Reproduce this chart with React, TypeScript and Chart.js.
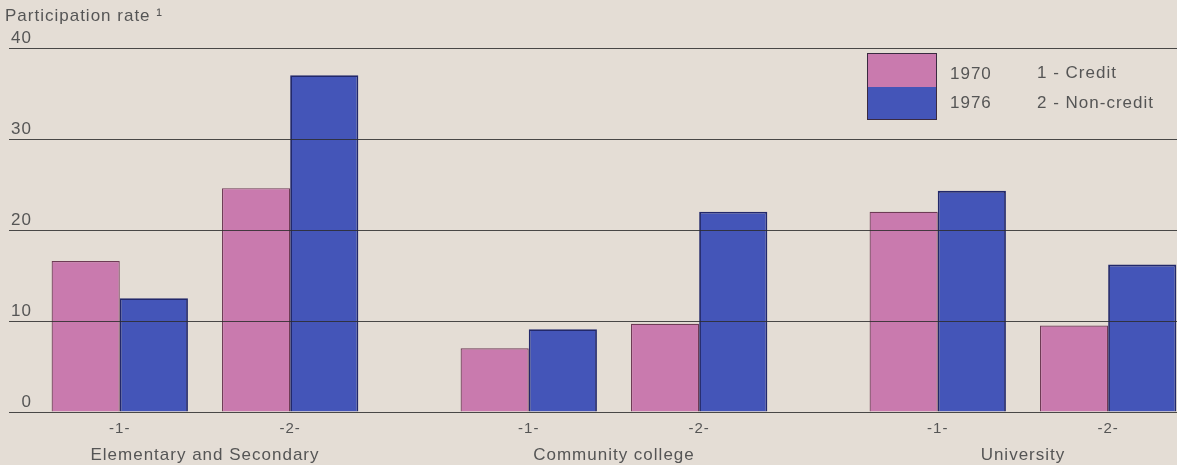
import React, { useEffect, useRef } from 'react';
import { Chart, registerables } from 'chart.js';

Chart.register(...registerables);

// ---- Data ----
const GROUPS = ['Elementary and Secondary', 'Community college', 'University'];
const SUB_LABELS = ['-1-', '-2-'];
const SERIES = ['1970', '1976'];
const VALUES_1970 = [16.6, 24.6, 7.0, 9.7, 22.0, 9.5];
const VALUES_1976 = [12.5, 37.0, 9.1, 22.0, 24.3, 16.2];
const LEGEND_NOTES = ['1 - Credit', '2 - Non-credit'];
const Y_MIN = 0;
const Y_MAX = 40;
const Y_STEP = 10;
const TITLE = 'Participation rate \u00B9';

// ---- Layout / style ----
const GROUP_STEP = 12;
const SUB_STEP = 5;
const X_MIN = -3.25;
const X_MAX = 31.02;
const BG = '#e4ddd5';
const PINK = '#c97aae';
const PINK_BORDER = '#6e3b55';
const BLUE = '#4455b8';
const BLUE_BORDER = '#22286a';
const TEXT = '#555';
const GRID = 'rgba(45,45,45,0.85)';
const FONT = '"Liberation Sans", Arial, Helvetica, sans-serif';

const barPos = (i: number) => Math.floor(i / SUB_LABELS.length) * GROUP_STEP + (i % SUB_LABELS.length) * SUB_STEP;
const BAR_POS = VALUES_1970.map((_, i) => barPos(i));
const GROUP_POS = GROUPS.map((_, g) => g * GROUP_STEP + SUB_STEP / 2);

const letterSpacingPlugin = {
  id: 'letterSpacing',
  beforeUpdate(chart: any) { chart.ctx.letterSpacing = '1px'; },
  beforeLayout(chart: any) { chart.ctx.letterSpacing = '1px'; },
  beforeDraw(chart: any) { chart.ctx.letterSpacing = '1px'; },
};

export default function App() {
  const ref = useRef<HTMLCanvasElement>(null);

  useEffect(() => {
    if (!ref.current) return;
    const chart = new Chart(ref.current, {
      type: 'bar',
      data: {
        datasets: [
          {
            label: SERIES[0],
            data: VALUES_1970.map((v, i) => ({ x: BAR_POS[i], y: v })),
            backgroundColor: PINK,
            borderColor: PINK_BORDER,
            borderWidth: 1.2,
            categoryPercentage: 0.8,
            barPercentage: 1,
          },
          {
            label: SERIES[1],
            data: VALUES_1976.map((v, i) => ({ x: BAR_POS[i], y: v })),
            backgroundColor: BLUE,
            borderColor: BLUE_BORDER,
            borderWidth: 1.8,
            categoryPercentage: 0.8,
            barPercentage: 1,
          },
        ] as any,
      },
      options: {
        animation: false,
        responsive: true,
        maintainAspectRatio: false,
        layout: { padding: { left: 5, right: 0, top: 0, bottom: 0 } },
        plugins: {
          legend: { display: false },
          tooltip: { enabled: false },
          title: {
            display: true,
            text: TITLE,
            align: 'start',
            color: TEXT,
            font: { family: FONT, size: 17, weight: 'normal' },
            padding: { top: 6, bottom: 21.6 },
          },
        },
        scales: {
          x: {
            type: 'linear',
            min: X_MIN,
            max: X_MAX,
            bounds: 'data',
            offset: false,
            weight: 0,
            grid: { display: false, drawTicks: false, offset: false },
            border: { display: false },
            afterBuildTicks: (axis: any) => { axis.ticks = BAR_POS.map((v) => ({ value: v })); },
            ticks: {
              autoSkip: false,
              maxRotation: 0,
              padding: 8,
              color: TEXT,
              font: { family: FONT, size: 15, lineHeight: 1.2 },
              callback: (_v: any, i: number) => SUB_LABELS[i % SUB_LABELS.length],
            },
          },
          x2: {
            type: 'linear',
            position: 'bottom',
            min: X_MIN,
            max: X_MAX,
            bounds: 'data',
            offset: false,
            weight: 1,
            grid: { display: false, drawTicks: false },
            border: { display: false },
            afterBuildTicks: (axis: any) => { axis.ticks = GROUP_POS.map((v) => ({ value: v })); },
            ticks: {
              autoSkip: false,
              maxRotation: 0,
              padding: 0,
              color: TEXT,
              font: { family: FONT, size: 17, lineHeight: '19px' },
              callback: (_v: any, i: number) => GROUPS[i],
            },
          },
          y: {
            min: Y_MIN,
            max: Y_MAX,
            border: { display: false },
            grid: { color: GRID, lineWidth: 1, drawTicks: false, z: 1 },
            ticks: {
              stepSize: Y_STEP,
              mirror: true,
              crossAlign: 'far',
              padding: 2,
              labelOffset: -10,
              color: TEXT,
              font: { family: FONT, size: 17 },
            },
          },
        } as any,
      },
      plugins: [letterSpacingPlugin],
    });
    return () => chart.destroy();
  }, []);

  const textStyle: React.CSSProperties = {
    position: 'absolute',
    fontFamily: FONT,
    fontSize: 17,
    letterSpacing: '1px',
    color: TEXT,
    lineHeight: '20px',
    whiteSpace: 'nowrap',
  };

  return (
    <div style={{ position: 'fixed', left: 0, top: 0, width: 1177, height: 465, background: BG, overflow: 'hidden' }}>
      <canvas ref={ref} />
      <div style={{ position: 'absolute', left: 867, top: 53, width: 70, height: 67, boxSizing: 'border-box', border: '1px solid #3a2a40' }}>
        <div style={{ height: '50%', background: PINK }} />
        <div style={{ height: '50%', background: BLUE }} />
      </div>
      <div style={{ ...textStyle, left: 950, top: 64 }}>{SERIES[0]}</div>
      <div style={{ ...textStyle, left: 950, top: 93 }}>{SERIES[1]}</div>
      <div style={{ ...textStyle, left: 1037, top: 63 }}>{LEGEND_NOTES[0]}</div>
      <div style={{ ...textStyle, left: 1037, top: 93 }}>{LEGEND_NOTES[1]}</div>
    </div>
  );
}
